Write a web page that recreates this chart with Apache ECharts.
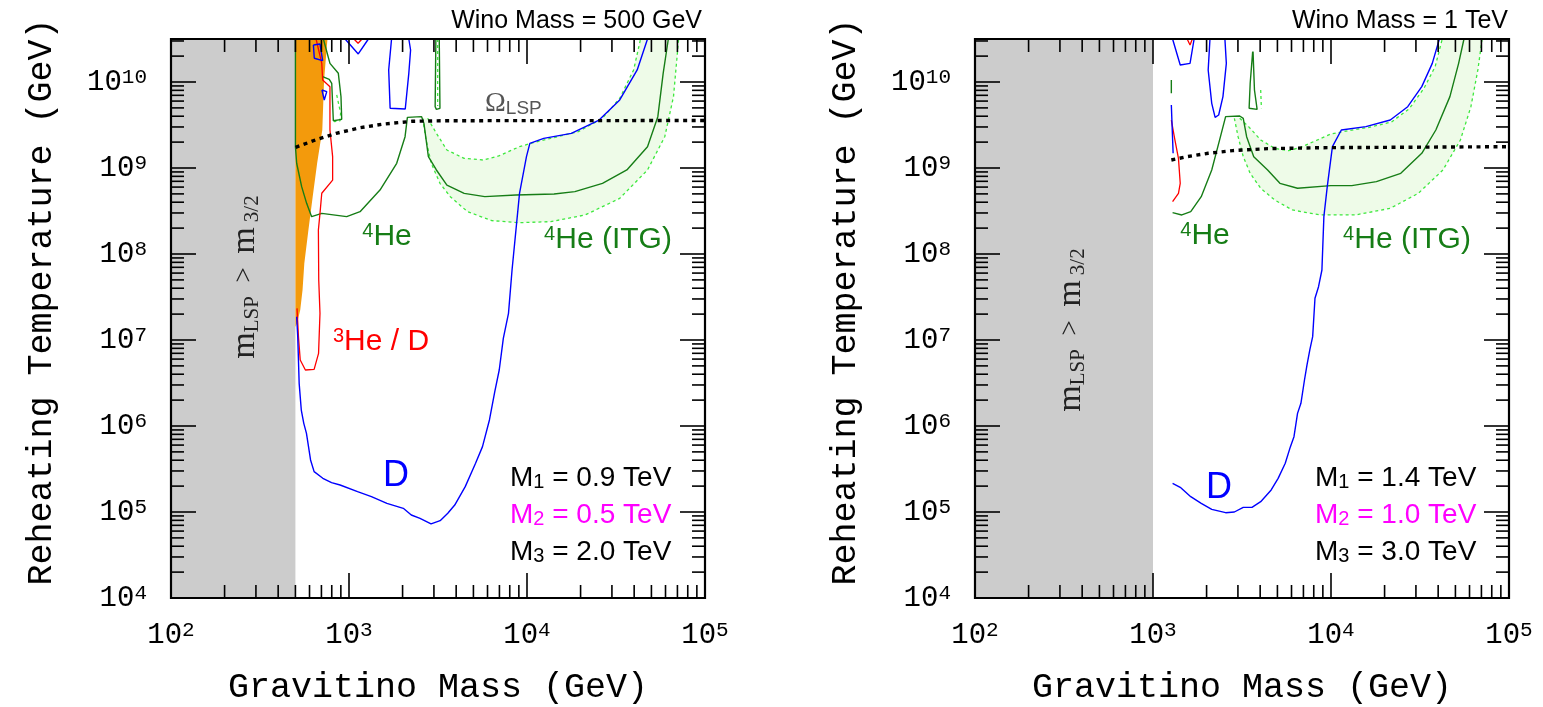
<!DOCTYPE html>
<html><head><meta charset="utf-8">
<script src="https://cdn.jsdelivr.net/npm/echarts@6/dist/echarts.min.js"></script>
<style>html,body{margin:0;padding:0;background:#fff}#c{width:1543px;height:707px}</style>
</head><body><div id="c"></div>
<script>
// Axis extents (log10 of GeV)
const xExtent = [2, 5];
const yExtent = [4, 10.5];
const winoMassGeV = [500, 1000];
const panelTitles = ['Wino Mass = 500 GeV', 'Wino Mass = 1 TeV'];
const massM1 = ['0.9', '1.4'];
const massM2 = ['0.5', '1.0'];
const massM3 = ['2.0', '3.0'];

// ---- Left panel (Wino 500 GeV): points are [log10(m3/2/GeV), log10(T_R/GeV)] ----
const L_blueD = [[2.706,7.271],[2.712,7.039],[2.720,6.496],[2.732,6.186],[2.746,6.031],[2.761,5.915],[2.784,5.605],[2.804,5.469],[2.853,5.392],[2.902,5.341],[2.950,5.314],[3.048,5.236],[3.126,5.178],[3.213,5.101],[3.305,5.043],[3.350,4.965],[3.399,4.926],[3.461,4.861],[3.512,4.899],[3.555,4.985],[3.594,5.081],[3.653,5.295],[3.711,5.566],[3.750,5.760],[3.789,6.070],[3.819,6.399],[3.844,6.651],[3.867,7.019],[3.896,7.310],[3.916,7.814],[3.958,8.705],[3.997,9.132],[4.016,9.287],[4.094,9.345],[4.249,9.403],[4.405,9.558],[4.521,9.791],[4.619,10.140],[4.677,10.5]];
const L_blueIsland = [[3.239,10.5],[3.223,10.140],[3.231,9.694],[3.316,9.686],[3.336,10.101],[3.346,10.372],[3.336,10.5]];
const L_blueV = [[2.978,10.5],[3.052,10.326],[3.109,10.5]];
const L_blueSquare = [[2.800,10.430],[2.837,10.442],[2.852,10.248],[2.805,10.276],[2.800,10.430]];
const L_blueSmall = [[2.848,9.907],[2.875,9.888],[2.861,9.791],[2.850,9.791],[2.848,9.907]];
const L_redV = [[3.028,10.5],[3.051,10.45],[3.073,10.5]];
const L_red = [[2.815,10.5],[2.847,10.217],[2.852,10.023],[2.893,9.946],[2.893,9.442],[2.908,9.132],[2.908,8.860],[2.847,8.706],[2.837,8.473],[2.828,8.279],[2.830,7.698],[2.837,7.310],[2.829,6.845],[2.804,6.659],[2.755,6.651],[2.726,6.767],[2.716,7.039],[2.708,7.368]];
const L_orange = [[2.699,10.5],[2.879,10.5],[2.860,10.023],[2.850,9.442],[2.821,9.054],[2.796,8.667],[2.772,8.279],[2.749,7.891],[2.739,7.581],[2.726,7.349],[2.708,7.194],[2.699,7.15]];
const L_he4 = [[2.699,10.5],[2.699,9.248],[2.706,9.055],[2.734,8.783],[2.762,8.589],[2.790,8.434],[2.847,8.473],[2.987,8.434],[3.062,8.492],[3.174,8.744],[3.268,9.055],[3.315,9.364],[3.328,9.589],[3.408,9.597],[3.421,9.519],[3.446,9.132],[3.491,8.977],[3.550,8.802],[3.647,8.705],[3.763,8.667],[3.938,8.686],[4.152,8.698],[4.269,8.725],[4.424,8.822],[4.561,8.977],[4.677,9.248],[4.735,9.597],[4.765,10.101],[4.794,10.5]];
const L_he4Loop = [[2.856,10.5],[2.893,10.217],[2.940,10.101],[2.955,9.829],[2.959,9.566],[2.912,9.550],[2.903,9.985],[2.889,10.031],[2.852,10.062]];
const L_he4LoopLime = [[2.931,9.849],[2.953,9.636],[2.949,9.547],[2.916,9.539]];
const L_spike = [[3.488,10.5],[3.484,9.713],[3.491,9.682],[3.511,9.694],[3.507,10.5]];
const L_spikeLime = [[3.498,10.5],[3.498,9.72]];
const L_itgInner = [[3.442,9.578],[3.491,9.403],[3.550,9.209],[3.647,9.112],[3.753,9.093],[3.841,9.140],[3.958,9.248],[4.035,9.295],[4.133,9.345],[4.288,9.423],[4.424,9.578],[4.521,9.810],[4.599,10.140],[4.638,10.5]];
const L_itgOuter = [[3.414,9.578],[3.433,9.326],[3.462,9.054],[3.511,8.822],[3.569,8.667],[3.666,8.492],[3.802,8.388],[3.958,8.364],[4.133,8.376],[4.327,8.454],[4.521,8.647],[4.677,8.977],[4.774,9.364],[4.823,9.830],[4.852,10.5]];
const L_omega = [[2.700,9.240],[2.811,9.326],[2.928,9.403],[3.063,9.469],[3.199,9.512],[3.355,9.543],[3.550,9.550],[5.0,9.552]];

// ---- Right panel (Wino 1 TeV) ----
const R_blueD = [[3.110,5.333],[3.153,5.287],[3.212,5.178],[3.271,5.101],[3.330,5.031],[3.408,4.992],[3.457,5.000],[3.507,5.054],[3.556,5.054],[3.605,5.120],[3.664,5.256],[3.703,5.391],[3.743,5.566],[3.772,5.760],[3.792,5.876],[3.812,6.147],[3.831,6.264],[3.851,6.535],[3.865,6.709],[3.881,6.884],[3.897,7.039],[3.910,7.485],[3.930,7.620],[3.949,7.814],[3.960,8.434],[3.979,8.783],[4.008,9.248],[4.058,9.442],[4.196,9.481],[4.333,9.558],[4.431,9.713],[4.510,9.946],[4.569,10.217],[4.609,10.5]];
const R_blueLoop1 = [[3.110,10.5],[3.153,10.198],[3.208,10.217],[3.231,10.5]];
const R_redV = [[3.192,10.5],[3.208,10.430],[3.221,10.5]];
const R_blueLoop2 = [[3.320,10.5],[3.310,10.140],[3.330,9.752],[3.349,9.589],[3.369,9.616],[3.393,9.830],[3.412,10.217],[3.404,10.5]];
const R_blueBit = [[3.103,9.733],[3.108,9.45],[3.113,9.171]];
const R_greenBit = [[3.103,10.023],[3.103,9.868]];
const R_red = [[3.103,9.558],[3.123,9.326],[3.143,9.112],[3.153,8.822],[3.143,8.706],[3.110,8.609]];
const R_he4 = [[3.110,8.481],[3.162,8.454],[3.212,8.492],[3.271,8.667],[3.330,8.977],[3.379,9.364],[3.408,9.597],[3.487,9.605],[3.507,9.578],[3.526,9.364],[3.566,9.132],[3.644,8.977],[3.713,8.822],[3.812,8.764],[3.999,8.795],[4.117,8.795],[4.255,8.841],[4.392,8.938],[4.510,9.171],[4.589,9.442],[4.668,9.830],[4.717,10.217],[4.747,10.5]];
const R_spike = [[3.560,10.353],[3.546,9.985],[3.540,9.694],[3.585,9.682],[3.570,9.907],[3.562,10.353]];
const R_spikeLime = [[3.605,9.907],[3.609,9.694]];
const R_itgInner = [[3.487,9.578],[3.537,9.481],[3.605,9.326],[3.684,9.229],[3.762,9.202],[3.831,9.240],[3.910,9.314],[3.999,9.395],[4.097,9.434],[4.215,9.473],[4.340,9.535],[4.440,9.690],[4.522,9.926],[4.585,10.178],[4.625,10.5]];
const R_itgOuter = [[3.457,9.578],[3.478,9.364],[3.507,9.132],[3.546,8.938],[3.605,8.764],[3.684,8.628],[3.782,8.512],[3.940,8.454],[4.137,8.454],[4.333,8.531],[4.490,8.705],[4.629,8.977],[4.727,9.326],[4.786,9.713],[4.825,10.140],[4.849,10.5]];
const R_omega = [[3.103,9.093],[3.192,9.132],[3.310,9.171],[3.448,9.202],[3.644,9.225],[3.940,9.236],[5.0,9.248]];

// ---- styling ----
const C_BLUE = '#0000ff', C_RED = '#ff0000', C_GREEN = '#167d16', C_LIME = '#3ee83e';
const C_ORANGE = '#f39a0c', C_GRAY = '#cccccc', C_BAND = '#eefbe8', C_MAG = '#ff00ff';
const F_MONO = '"Liberation Mono", "DejaVu Sans Mono", monospace';
const F_SANS = '"Liberation Sans", Arial, sans-serif';
const F_SERIF = '"Liberation Serif", "DejaVu Serif", serif';
const F_NARROW = '"Liberation Sans Narrow", "Liberation Sans", sans-serif';

const panels = [
  {blue:[L_blueD,L_blueIsland,L_blueV,L_blueSquare,L_blueSmall], red:[L_red,L_redV], green:[L_he4,L_he4Loop,L_spike],
   lime:[L_itgInner,L_itgOuter,L_he4LoopLime,L_spikeLime], inner:L_itgInner, outer:L_itgOuter, orange:L_orange, omega:L_omega},
  {blue:[R_blueD,R_blueLoop1,R_blueLoop2,R_blueBit], red:[R_red,R_redV], green:[R_he4,R_spike,R_greenBit],
   lime:[R_itgInner,R_itgOuter,R_spikeLime], inner:R_itgInner, outer:R_itgOuter, orange:null, omega:R_omega}
];

function lineS(data, gi, color, width, type, z) {
  return {type:'line', xAxisIndex:gi, yAxisIndex:gi, data:data, showSymbol:false, symbol:'none',
    lineStyle:{color:color, width:width, type:type}, silent:true, z:z, animation:false};
}
function polyS(points, gi, fill, z) {
  return {type:'custom', coordinateSystem:'cartesian2d', xAxisIndex:gi, yAxisIndex:gi, silent:true, z:z,
    data:[[points[0][0], points[0][1]]], animation:false,
    renderItem:function(p, api){ return {type:'polygon', shape:{points:points.map(function(q){return api.coord(q);})}, style:{fill:fill}}; }};
}
function frameS(gi) {
  return {type:'custom', coordinateSystem:'cartesian2d', xAxisIndex:gi, yAxisIndex:gi, silent:true, z:10,
    data:[[xExtent[0], yExtent[0]]], animation:false,
    renderItem:function(p, api){
      const ch = [];
      const st = {stroke:'#000', lineWidth:1.6};
      const add = function(a, b){ ch.push({type:'line', shape:{x1:a[0],y1:a[1],x2:b[0],y2:b[1]}, style:st}); };
      for (let k = xExtent[0]; k <= xExtent[1]; k++) {
        for (let m = 1; m <= 9; m++) {
          const v = k + Math.log10(m);
          if (v > xExtent[1] + 1e-9) break;
          const len = m === 1 ? 25 : 13;
          const b = api.coord([v, yExtent[0]]), t = api.coord([v, yExtent[1]]);
          add(b, [b[0], b[1]-len]); add(t, [t[0], t[1]+len]);
        }
      }
      for (let k = yExtent[0]; k <= Math.floor(yExtent[1]); k++) {
        for (let m = 1; m <= 9; m++) {
          const v = k + Math.log10(m);
          if (v > yExtent[1] + 1e-9) break;
          const len = m === 1 ? 25 : 13;
          const l = api.coord([xExtent[0], v]), r = api.coord([xExtent[1], v]);
          add(l, [l[0]+len, l[1]]); add(r, [r[0]-len, r[1]]);
        }
      }
      const a = api.coord([xExtent[0], yExtent[1]]), b = api.coord([xExtent[1], yExtent[0]]);
      ch.push({type:'rect', shape:{x:a[0], y:a[1], width:b[0]-a[0], height:b[1]-a[1]}, style:{stroke:'#000', fill:null, lineWidth:2.2}});
      return {type:'group', children:ch};
    }};
}

const series = [];
panels.forEach(function(P, gi){
  const edge = Math.log10(winoMassGeV[gi]);
  series.push(polyS([[xExtent[0],yExtent[0]],[edge,yExtent[0]],[edge,yExtent[1]],[xExtent[0],yExtent[1]]], gi, C_GRAY, 1));
  series.push(polyS(P.inner.concat(P.outer.slice().reverse()), gi, C_BAND, 2));
  if (P.orange) series.push(polyS(P.orange, gi, C_ORANGE, 2));
  P.lime.forEach(function(d){ series.push(lineS(d, gi, C_LIME, 1.3, [3,3], 3)); });
  P.green.forEach(function(d){ series.push(lineS(d, gi, C_GREEN, 1.4, 'solid', 4)); });
  P.red.forEach(function(d){ series.push(lineS(d, gi, C_RED, 1.3, 'solid', 4)); });
  P.blue.forEach(function(d){ series.push(lineS(d, gi, C_BLUE, 1.4, 'solid', 4)); });
  series.push(lineS(P.omega, gi, '#000', 3.4, [4,4.5], 5));
  series.push(frameS(gi));
});

function expLabel(v){
  const r = Math.round(v);
  return Math.abs(v - r) < 1e-6 ? '{b|10}{s|' + r + '}' : '';
}
const tickRich = {b:{fontSize:29, fontFamily:F_MONO, color:'#000', lineHeight:30},
                  s:{fontSize:21, fontFamily:F_MONO, color:'#000', verticalAlign:'top', lineHeight:20}};
function xAx(gi){ return {gridIndex:gi, type:'value', min:xExtent[0], max:xExtent[1], interval:1,
  axisLine:{show:false}, axisTick:{show:false}, splitLine:{show:false},
  axisLabel:{margin:22, formatter:expLabel, rich:tickRich}}; }
function yAx(gi){ return {gridIndex:gi, type:'value', min:yExtent[0], max:yExtent[1], interval:1,
  axisLine:{show:false}, axisTick:{show:false}, splitLine:{show:false},
  axisLabel:{margin:24, formatter:expLabel, rich:tickRich}}; }

// rich token helper (zrender uses fill for text colour)
function tok(size, family, color, extra){
  return Object.assign({fontSize:size, fontFamily:family, fill:color, color:color}, extra || {});
}
function txt(x, y, text, rich, opts) {
  opts = opts || {};
  const el = {type:'text', x:x, y:y, z:20, silent:true,
    style:{text:text, rich:rich, fill:opts.fill || '#000', font:opts.font || ('28px ' + F_SANS),
      textAlign:opts.align || 'center', textVerticalAlign:'middle', align:opts.align || 'center', verticalAlign:'middle'}};
  if (opts.rotation) el.rotation = opts.rotation;
  return el;
}

const graphics = [];
const gridLefts = [171, 975];
const dxRight = gridLefts[1] - gridLefts[0];
[0,1].forEach(function(gi){
  const dx = gi * dxRight;
  graphics.push(txt(702 + dx + (gi ? 2 : 0), 21, panelTitles[gi], null, {font:'25px ' + F_NARROW, align:'right'}));
  graphics.push(txt(42 + dx, 302, 'Reheating Temperature (GeV)', null, {font:'35px ' + F_MONO, rotation:Math.PI/2}));
  graphics.push(txt(438 + dx, 688, 'Gravitino Mass (GeV)', null, {font:'35px ' + F_MONO}));
  const mx = gi ? 1315 : 510;
  const mk = function(c){ return {t:tok(28, F_SANS, c), s:tok(20, F_SANS, c, {verticalAlign:'bottom', lineHeight:26})}; };
  graphics.push(txt(mx, 478, '{t|M}{s|1}{t| = ' + massM1[gi] + ' TeV}', mk('#000'), {align:'left'}));
  graphics.push(txt(mx, 515, '{t|M}{s|2}{t| = ' + massM2[gi] + ' TeV}', mk(C_MAG), {align:'left', fill:C_MAG}));
  graphics.push(txt(mx, 552, '{t|M}{s|3}{t| = ' + massM3[gi] + ' TeV}', mk('#000'), {align:'left'}));
  const heRich = {s:tok(20, F_SANS, C_GREEN, {verticalAlign:'top', lineHeight:22}), t:tok(30, F_SANS, C_GREEN, {lineHeight:32})};
  graphics.push(txt(gi ? 1205 : 387, gi ? 236 : 237, '{s|4}{t|He}', heRich, {fill:C_GREEN}));
  graphics.push(txt(gi ? 1407 : 608, 240, '{s|4}{t|He (ITG)}', heRich, {fill:C_GREEN}));
  graphics.push(txt(gi ? 1219 : 396, gi ? 488 : 476, 'D', null, {font:'36px ' + F_SANS, fill:C_BLUE}));
  const lspRich = {m:tok(34, F_SERIF, '#222', {lineHeight:36}), sub:tok(21, F_SERIF, '#222', {verticalAlign:'bottom', lineHeight:30}), g:tok(27, F_SERIF, '#222', {lineHeight:36})};
  graphics.push(txt(gi ? 1071 : 245, gi ? 330 : 277, '{m|m}{sub|LSP}{g|  >  }{m|m}{sub| 3/2}', lspRich, {rotation:Math.PI/2}));
});
graphics.push(txt(381, 342, '{s|3}{t|He / D}', {s:tok(20, F_SANS, C_RED, {verticalAlign:'top', lineHeight:22}), t:tok(30, F_SANS, C_RED, {lineHeight:32})}, {fill:C_RED}));
graphics.push(txt(485, 104, '{o|Ω}{l|LSP}', {o:tok(28, F_SERIF, '#555', {lineHeight:28}), l:tok(19, F_SANS, '#555', {verticalAlign:'bottom', lineHeight:24})}, {align:'left', fill:'#555'}));

const chart = echarts.init(document.getElementById('c'), null, {renderer:'canvas'});
chart.setOption({
  animation:false,
  backgroundColor:'#fff',
  grid:[{left:171, top:39, width:534, height:559, containLabel:false},
        {left:975, top:39, width:534, height:559, containLabel:false}],
  xAxis:[xAx(0), xAx(1)],
  yAxis:[yAx(0), yAx(1)],
  series:series,
  graphic:graphics
});
</script></body></html>
